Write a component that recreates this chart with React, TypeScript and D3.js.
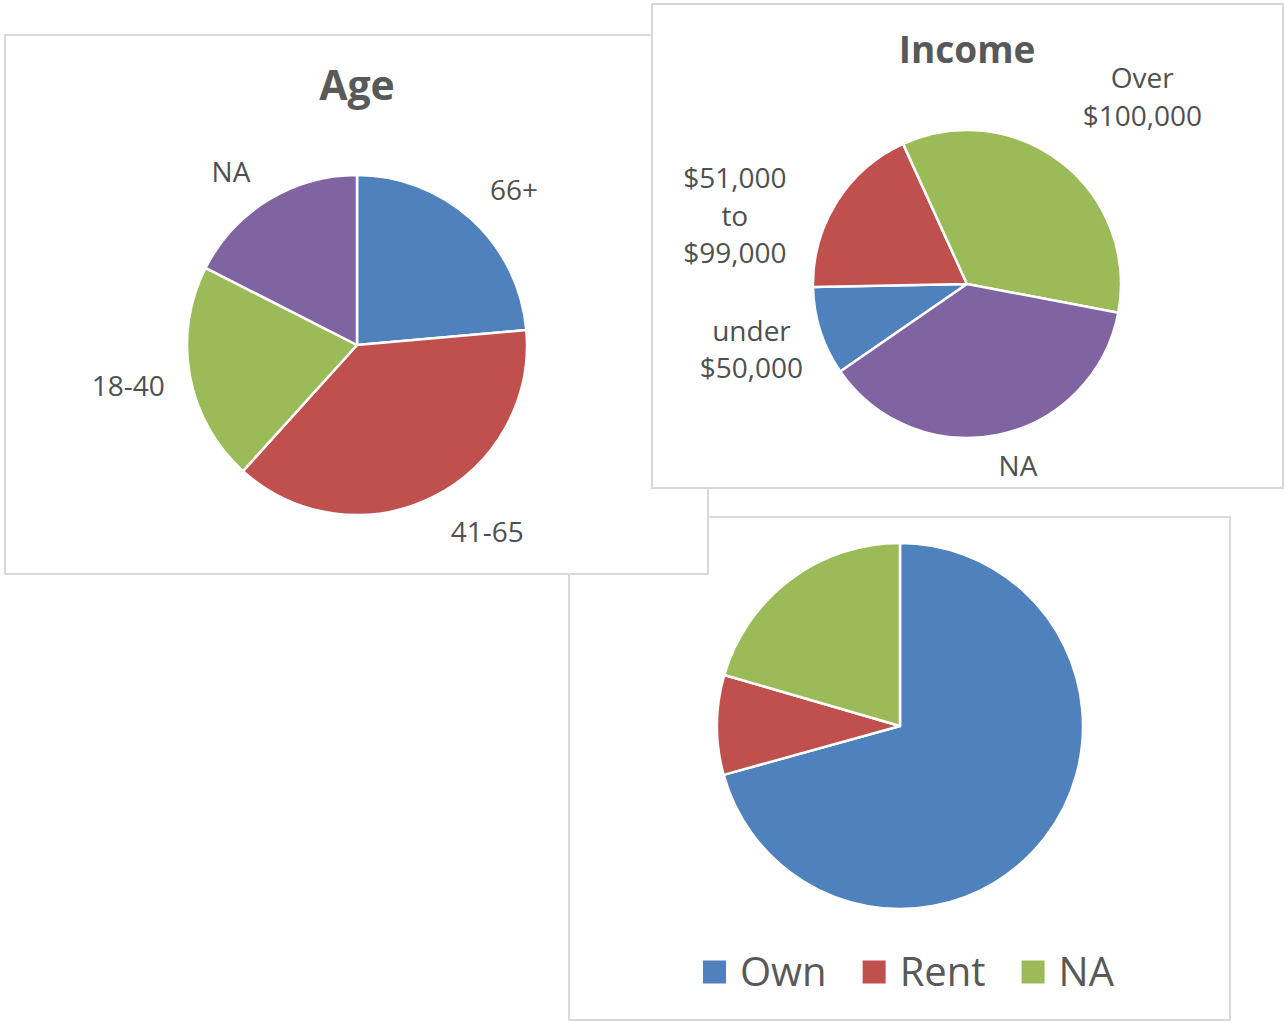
import React, { useMemo } from 'react';
import * as d3 from 'd3';

// ---------- data ----------
const ageCategories = ['66+', '41-65', '18-40', 'NA'];
const ageValues = [23.6, 38.1, 20.8, 17.5];

const incomeCategories = ['under $50,000', '$51,000 to $99,000', 'Over $100,000', 'NA'];
const incomeLabelLines = [['under', '$50,000'], ['$51,000', 'to', '$99,000'], ['Over', '$100,000'], ['NA']];
const incomeValues = [9.3, 18.5, 34.8, 37.4];

const tenureCategories = ['Own', 'Rent', 'NA'];
const tenureValues = [70.7, 8.8, 20.5];

const palette = ['#4F81BD', '#C0504D', '#9BBB59', '#8064A2'];

// ---------- styling ----------
const FONT = "'Open Sans', 'Noto Sans', sans-serif";
const TEXT = '#595959';
const LABEL_TEXT = '#505050';
const BORDER = '#D9D9D9';
const LABEL_FS = 28;
const LABEL_LH = 37.5;

let measureCtx: CanvasRenderingContext2D | null = null;
function measure(text: string, size: number, weight = 'normal') {
  if (!measureCtx) {
    const c = document.createElement('canvas');
    measureCtx = c.getContext('2d');
  }
  if (!measureCtx) return text.length * size * 0.56;
  measureCtx.font = `${weight} ${size}px 'Open Sans'`;
  return measureCtx.measureText(text).width;
}

type PieProps = {
  cx: number;
  cy: number;
  r: number;
  values: number[];
  labels?: string[][];
  startDeg: number;
  gap?: number;
  nudges?: [number, number][];
};

function Pie({ cx, cy, r, values, labels, startDeg, gap = 25, nudges }: PieProps) {
  const start = (startDeg * Math.PI) / 180;
  const slices = d3
    .pie<number>()
    .sort(null)
    .value((d) => d)
    .startAngle(start)
    .endAngle(start + 2 * Math.PI)(values);
  const arc = d3.arc<d3.PieArcDatum<number>>().innerRadius(0).outerRadius(r);
  const color = d3.scaleOrdinal<number, string>().domain(d3.range(values.length)).range(palette);

  return (
    <g transform={`translate(${cx},${cy})`}>
      {slices.map((s, i) => (
        <path key={i} d={arc(s) || ''} fill={color(i)} stroke="#FFFFFF" strokeWidth={2.5} strokeLinejoin="round" />
      ))}
      {labels &&
        slices.map((s, i) => {
          const lines = labels[i];
          const a = (s.startAngle + s.endAngle) / 2;
          const sn = Math.sin(a);
          const cs = Math.cos(a);
          const w = Math.max(...lines.map((l) => measure(l, LABEL_FS)));
          const h = lines.length * LABEL_LH;
          const nd = nudges ? nudges[i] : [0, 0];
          const x = sn * (r + gap) + (sn * w) / 2 + nd[0];
          const y = -cs * (r + gap) - (cs * h) / 2 + nd[1];
          return (
            <text key={'l' + i} textAnchor="middle" fontFamily={FONT} fontSize={LABEL_FS} fill={LABEL_TEXT}>
              {lines.map((l, j) => (
                <tspan key={j} x={x} y={y - ((lines.length - 1) * LABEL_LH) / 2 + j * LABEL_LH} dy="0.36em">
                  {l}
                </tspan>
              ))}
            </text>
          );
        })}
    </g>
  );
}

function Legend({ x, y, names }: { x: number; y: number; names: string[] }) {
  const fs = 40;
  const sq = 23;
  const textGap = 14;
  const itemGap = 36;
  let cur = x;
  const items = names.map((n, i) => {
    const w = measure(n, fs);
    const it = { n, i, x: cur, w };
    cur += sq + textGap + w + itemGap;
    return it;
  });
  return (
    <g>
      {items.map((it) => (
        <g key={it.n}>
          <rect x={it.x} y={y - sq / 2} width={sq} height={sq} fill={palette[it.i]} />
          <text x={it.x + sq + textGap} y={y} dy="0.36em" fontFamily={FONT} fontSize={fs} fill={TEXT}>
            {it.n}
          </text>
        </g>
      ))}
    </g>
  );
}

export default function App() {
  const ageLabels = useMemo(() => ageCategories.map((c) => [c]), []);
  return (
    <svg
      width={1285}
      height={1022}
      viewBox="0 0 1285 1022"
      style={{ position: 'absolute', left: 0, top: 0, background: '#FFFFFF' }}
    >
      {/* Tenure panel */}
      <rect x={569} y={517} width={661} height={503} fill="#FFFFFF" stroke={BORDER} strokeWidth={2} />
      <Pie cx={900} cy={726} r={183} values={tenureValues} startDeg={0} />
      <Legend x={703} y={972} names={tenureCategories} />

      {/* Age panel */}
      <rect x={5} y={35} width={703} height={539} fill="#FFFFFF" stroke={BORDER} strokeWidth={2} />
      <text x={357} y={100} textAnchor="middle" fontFamily={FONT} fontWeight="bold" fontSize={41} fill={TEXT}>
        Age
      </text>
      <Pie
        cx={357}
        cy={345}
        r={170}
        values={ageValues}
        labels={ageLabels}
        startDeg={0}
        nudges={[[9, 3], [27, -4], [-1, 2], [-14, 9]]}
      />

      {/* Income panel */}
      <rect x={652} y={4} width={631} height={484} fill="#FFFFFF" stroke={BORDER} strokeWidth={2} />
      <text x={967} y={63} textAnchor="middle" fontFamily={FONT} fontWeight="bold" fontSize={37} fill={TEXT}>
        Income
      </text>
      <Pie
        cx={967}
        cy={284}
        r={154}
        values={incomeValues}
        labels={incomeLabelLines}
        startDeg={235.4}
        nudges={[[4, -1], [-37, 57], [28, -17], [10, -12]]}
      />
    </svg>
  );
}
